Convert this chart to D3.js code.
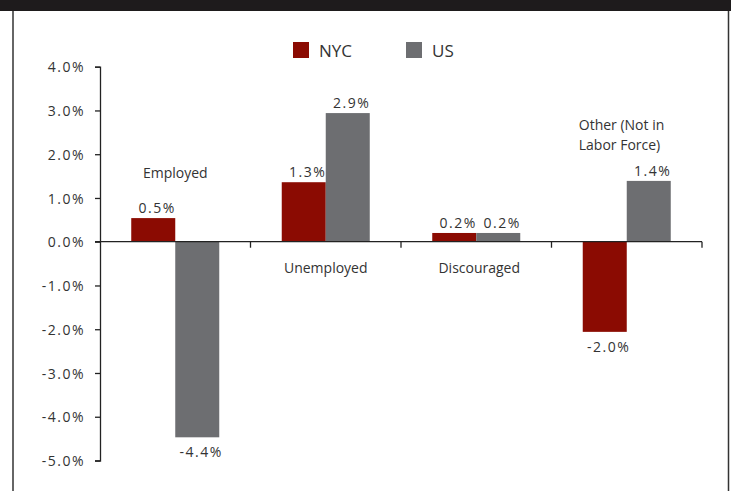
<!DOCTYPE html>
<html>
<head>
<meta charset="utf-8">
<script src="https://cdn.jsdelivr.net/npm/d3@7"></script>
<style>
  body { margin: 0; background: #fff; }
  svg { display: block; }
  text { font-family: "Open Sans", "Noto Sans", sans-serif; font-size: 14px; fill: #333; }
  .num { letter-spacing: 1.5px; }
</style>
</head>
<body>
<div id="chart"></div>
<script>
// categories and series
var categories = ["Employed", "Unemployed", "Discouraged", "Other"];
var series = ["NYC", "US"];
var nycValues = [0.54, 1.36, 0.2, -2.06];
var usValues = [-4.47, 2.94, 0.2, 1.39];
var nycLabels = ["0.5%", "1.3%", "0.2%", "-2.0%"];
var usLabels = ["-4.4%", "2.9%", "0.2%", "1.4%"];
var yTicks = [4, 3, 2, 1, 0, -1, -2, -3, -4, -5];
var colors = { NYC: "#8b0b02", US: "#6d6e71" };

var W = 731, H = 491;
var svg = d3.select("#chart").append("svg").attr("width", W).attr("height", H);

// frame: black top band + side rules
svg.append("rect").attr("x", 0).attr("y", 0).attr("width", W).attr("height", 11).attr("fill", "#1e1b1c");
svg.append("line").attr("x1", 13).attr("x2", 13).attr("y1", 11).attr("y2", H).attr("stroke", "#333").attr("stroke-width", 1.5);
svg.append("line").attr("x1", 728.5).attr("x2", 728.5).attr("y1", 11).attr("y2", H).attr("stroke", "#333").attr("stroke-width", 1.5);

var y = d3.scaleLinear().domain([-5, 4]).range([460.5, 66.7]);
var x0 = d3.scaleBand().domain(categories).range([100, 702]).padding(0);
var x1 = d3.scaleBand().domain(series).range([0, x0.bandwidth()]).paddingInner(0).paddingOuter(0.71);

var rows = categories.map(function(c, i) {
  return { cat: c, vals: [
    { s: "NYC", v: nycValues[i], label: nycLabels[i] },
    { s: "US", v: usValues[i], label: usLabels[i] }
  ]};
});

// y axis
var yAxis = d3.axisLeft(y).tickValues(yTicks).tickSize(5).tickPadding(10)
  .tickFormat(function(d) { return d.toFixed(1) + "%"; });
var gy = svg.append("g").attr("transform", "translate(100,0)").call(yAxis);
gy.attr("font-size", null).attr("font-family", null);
gy.select(".domain").attr("stroke", "#222").attr("stroke-width", 1.3);
gy.selectAll(".tick line").attr("stroke", "#222").attr("stroke-width", 1.3);
gy.selectAll(".tick text").attr("class", "num").attr("dy", "0.36em")
  .style("font-size", "14px").style("fill", "#333");

// bars
var groups = svg.selectAll(".grp").data(rows).enter().append("g")
  .attr("transform", function(d) { return "translate(" + x0(d.cat) + ",0)"; });

groups.selectAll("rect").data(function(d) { return d.vals; }).enter().append("rect")
  .attr("x", function(d) { return x1(d.s); })
  .attr("width", x1.bandwidth())
  .attr("y", function(d) { return y(Math.max(0, d.v)); })
  .attr("height", function(d) { return Math.abs(y(d.v) - y(0)); })
  .attr("fill", function(d) { return colors[d.s]; });

groups.selectAll(".num").data(function(d) { return d.vals; }).enter().append("text")
  .attr("class", "num")
  .attr("text-anchor", "middle")
  .attr("x", function(d) { return x1(d.s) + x1.bandwidth() / 2 + 4; })
  .attr("y", function(d) { return d.v >= 0 ? y(d.v) - 5 : y(d.v) + 20; })
  .text(function(d) { return d.label; });

// x axis at zero
var xAxis = d3.axisBottom(x0).tickSize(6).tickFormat("");
var gx = svg.append("g").attr("transform", "translate(0," + y(0) + ")").call(xAxis);
gx.select(".domain").attr("d", "M95,0H702").attr("stroke", "#222").attr("stroke-width", 1.3);
gx.selectAll(".tick").remove();
var bounds = categories.map(function(c) { return x0(c) + x0.bandwidth(); });
gx.selectAll(".bnd").data(bounds).enter().append("line")
  .attr("x1", function(d) { return d; }).attr("x2", function(d) { return d; })
  .attr("y1", 0).attr("y2", 6).attr("stroke", "#222").attr("stroke-width", 1.3);

// category labels
var cx = function(c) { return x0(c) + x0.bandwidth() / 2; };
svg.append("text").attr("x", cx("Employed")).attr("y", 178).attr("text-anchor", "middle").text("Employed");
svg.append("text").attr("x", cx("Unemployed")).attr("y", 273).attr("text-anchor", "middle").text("Unemployed");
svg.append("text").attr("x", cx("Discouraged") + 3).attr("y", 273).attr("text-anchor", "middle").text("Discouraged");
var other = svg.append("text").attr("x", cx("Other") - 48).attr("y", 130);
other.append("tspan").attr("x", cx("Other") - 48).text("Other (Not in");
other.append("tspan").attr("x", cx("Other") - 48).attr("dy", 19.5).text("Labor Force)");

// legend
var leg = svg.selectAll(".leg").data(series).enter().append("g")
  .attr("transform", function(d, i) { return "translate(" + (293 + i * 113) + ",42)"; });
leg.append("rect").attr("width", 16).attr("height", 16).attr("fill", function(d) { return colors[d]; });
leg.append("text").attr("x", 26).attr("y", 15).style("font-size", "17px").text(function(d) { return d; });
</script>
</body>
</html>
